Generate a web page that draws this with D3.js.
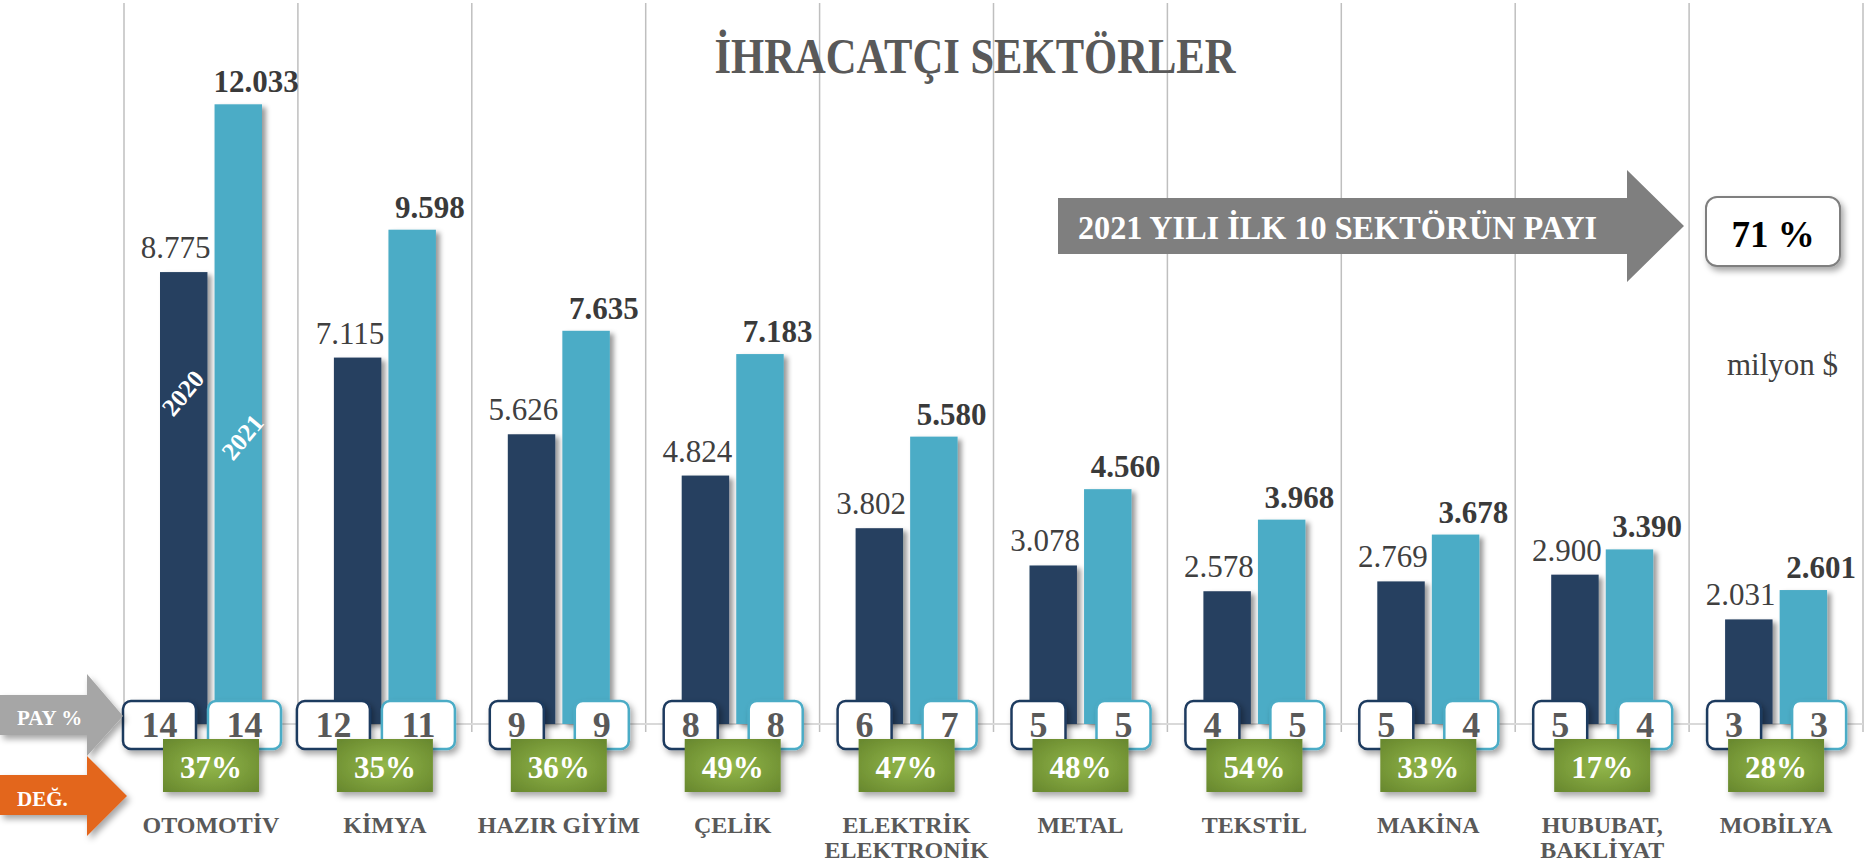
<!DOCTYPE html>
<html>
<head>
<meta charset="utf-8">
<script src="https://cdn.jsdelivr.net/npm/d3@7"></script>
<style>
html,body{margin:0;padding:0;background:#fff;}
svg{display:block;}
text{font-family:"Liberation Serif","Times New Roman",serif;}
</style>
</head>
<body>
<svg id="chart" width="1876" height="865"></svg>
<script>
// ---------- data ----------
const categories = ["OTOMOTİV","KİMYA","HAZIR GİYİM","ÇELİK","ELEKTRİK|ELEKTRONİK","METAL","TEKSTİL","MAKİNA","HUBUBAT,|BAKLİYAT","MOBİLYA"];
const years = ["2020","2021"];
const values2020 = [8775,7115,5626,4824,3802,3078,2578,2769,2900,2031];
const values2021 = [12033,9598,7635,7183,5580,4560,3968,3678,3390,2601];
const share2020 = [14,12,9,8,6,5,4,5,5,3];
const share2021 = [14,11,9,8,7,5,5,4,4,3];
const changePct = [37,35,36,49,47,48,54,33,17,28];
const titleText = "İHRACATÇI SEKTÖRLER";
const arrowText = "2021 YILI İLK 10 SEKTÖRÜN PAYI";
const top10Share = "71 %";
const unitText = "milyon $";
const payLabel = "PAY %";
const degLabel = "DEĞ.";

// ---------- setup ----------
const svg = d3.select("#chart");
const trLocale = d3.formatLocale({decimal:",", thousands:".", grouping:[3], currency:["","$"]});
const fmt = trLocale.format(",d");

const x = d3.scaleBand().domain(d3.range(categories.length)).range([124, 1863]).padding(0);
const sub = d3.scaleBand().domain(years).range([36, 138]).paddingInner(0.13);
const y = d3.scaleLinear().domain([0, 14000]).range([724, 3]);
const bw = sub.bandwidth();

const C = {dark:"#264061", light:"#4bacc6", grid:"#bfbfbf", axis:"#d9d9d9", text:"#595959", label:"#404040"};

const defs = svg.append("defs");
const sh = defs.append("filter").attr("id","shadow").attr("x","-30%").attr("y","-30%").attr("width","160%").attr("height","160%");
sh.append("feDropShadow").attr("dx",4).attr("dy",3).attr("stdDeviation",2.5).attr("flood-color","#000").attr("flood-opacity",0.4);
const sh2 = defs.append("filter").attr("id","shadow2").attr("x","-30%").attr("y","-30%").attr("width","160%").attr("height","160%");
sh2.append("feDropShadow").attr("dx",3).attr("dy",4).attr("stdDeviation",3).attr("flood-color","#000").attr("flood-opacity",0.35);
const rg = defs.append("radialGradient").attr("id","green").attr("cx","50%").attr("cy","50%").attr("r","65%");
rg.append("stop").attr("offset","0%").attr("stop-color","#92b74a");
rg.append("stop").attr("offset","100%").attr("stop-color","#6a8a2f");

// ---------- grid ----------
const gridX = x.domain().map(i => x(i)).concat([x.range()[1]]);
svg.append("g").selectAll("line").data(gridX).join("line")
  .attr("x1", d => d).attr("x2", d => d).attr("y1", 3).attr("y2", 732)
  .attr("stroke", C.grid).attr("stroke-width", 1.5);
svg.append("line").attr("x1", x.range()[0]).attr("x2", x.range()[1])
  .attr("y1", y(0)).attr("y2", y(0)).attr("stroke", C.axis).attr("stroke-width", 2);

// ---------- title ----------
svg.append("text").attr("x", 975).attr("y", 73).attr("text-anchor","middle")
  .attr("font-size", 50).attr("font-weight","bold").attr("fill", C.text)
  .attr("textLength", 521).attr("lengthAdjust","spacingAndGlyphs").text(titleText);

// ---------- bars ----------
const rows = categories.map((c, i) => ({i, c, v: [values2020[i], values2021[i]], s: [share2020[i], share2021[i]], chg: changePct[i]}));
const g = svg.append("g").selectAll("g").data(rows).join("g").attr("transform", d => `translate(${x(d.i)},0)`);

g.selectAll("rect.bar").data(d => years.map((yr, k) => ({yr, v: d.v[k]}))).join("rect")
  .attr("class","bar")
  .attr("x", d => sub(d.yr)).attr("width", bw)
  .attr("y", d => y(d.v)).attr("height", d => y(0) - y(d.v))
  .attr("fill", d => d.yr === "2020" ? C.dark : C.light)
  .attr("filter","url(#shadow)");

// value labels
g.append("text").attr("x", sub("2020") + bw + 3).attr("y", d => y(d.v[0]) - 14)
  .attr("text-anchor","end").attr("font-size", 31).attr("fill", C.label).text(d => fmt(d.v[0]));
g.append("text").attr("x", sub("2021") + bw - 6).attr("y", d => y(d.v[1]) - 12)
  .attr("text-anchor","middle").attr("font-size", 31).attr("font-weight","bold").attr("fill", "#3a3a3a").text(d => fmt(d.v[1]));

// series labels inside first group
const first = rows[0];
[["2020", -1], ["2021", 4]].forEach(([yr, dx], k) => {
  const cx = x(first.i) + sub(yr) + bw / 2 + dx;
  const cy = k === 0 ? 393 : 437;
  svg.append("text").attr("transform", `translate(${cx},${cy}) rotate(-50)`)
    .attr("text-anchor","middle").attr("dy","0.35em")
    .attr("font-size", 25).attr("font-weight","bold").attr("fill","#fff").text(yr);
});

// share boxes
const boxRight = {"2020": 72, "2021": 157};
g.each(function(d) {
  const gg = d3.select(this);
  years.forEach((yr, k) => {
    const val = d.s[k];
    const w = 35 + 19 * String(val).length;
    const x1 = boxRight[yr] - w;
    gg.append("rect").attr("x", x1).attr("y", 701).attr("width", w).attr("height", 48)
      .attr("rx", 8).attr("fill","#fff").attr("stroke", yr === "2020" ? "#1f3a5f" : C.light)
      .attr("stroke-width", 2.5).attr("filter","url(#shadow2)");
    gg.append("text").attr("x", x1 + w / 2).attr("y", 737).attr("text-anchor","middle")
      .attr("font-size", 36).attr("font-weight","bold").attr("fill", C.text).text(val);
  });
  gg.append("rect").attr("x", 39).attr("y", 739).attr("width", 96).attr("height", 53)
    .attr("fill","url(#green)").attr("filter","url(#shadow2)");
  gg.append("text").attr("x", 87).attr("y", 778).attr("text-anchor","middle")
    .attr("font-size", 31).attr("font-weight","bold").attr("fill","#fff").text(d.chg + "%");
  const lines = d.c.split("|");
  lines.forEach((ln, j) => {
    gg.append("text").attr("x", 87).attr("y", 833 + j * 25).attr("text-anchor","middle")
      .attr("font-size", 24).attr("font-weight","bold").attr("fill", C.text).text(ln);
  });
});

// ---------- left arrows ----------
function arrow(x0, bodyR, tipX, by0, by1, hy0, hy1, tipY) {
  return `M${x0},${by0} L${bodyR},${by0} L${bodyR},${hy0} L${tipX},${tipY} L${bodyR},${hy1} L${bodyR},${by1} L${x0},${by1} Z`;
}
svg.append("path").attr("d", arrow(0, 87, 123, 695, 735, 674, 756, 716))
  .attr("fill","#a6a6a6").attr("filter","url(#shadow2)");
svg.append("text").attr("x", 17).attr("y", 725).attr("font-size", 21).attr("font-weight","bold")
  .attr("fill","#fff").text(payLabel);
svg.append("path").attr("d", arrow(0, 87, 127, 775, 815, 756, 836, 796))
  .attr("fill","#e3661e").attr("filter","url(#shadow2)");
svg.append("text").attr("x", 17).attr("y", 806).attr("font-size", 21).attr("font-weight","bold")
  .attr("fill","#fff").text(degLabel);

// ---------- big arrow ----------
svg.append("path").attr("d", arrow(1058, 1627, 1684, 198, 254, 170, 282, 226)).attr("fill","#7f7f7f");
svg.append("text").attr("x", 1078).attr("y", 239).attr("font-size", 33).attr("font-weight","bold")
  .attr("fill","#fff").attr("textLength", 519).attr("lengthAdjust","spacingAndGlyphs").text(arrowText);

svg.append("rect").attr("x", 1706).attr("y", 197).attr("width", 134).attr("height", 69).attr("rx", 11)
  .attr("fill","#fff").attr("stroke","#7f7f7f").attr("stroke-width", 2).attr("filter","url(#shadow2)");
svg.append("text").attr("x", 1773).attr("y", 247).attr("text-anchor","middle").attr("font-size", 37)
  .attr("font-weight","bold").attr("fill","#000").text(top10Share);

svg.append("text").attr("x", 1838).attr("y", 375).attr("text-anchor","end").attr("font-size", 31)
  .attr("fill", C.label).text(unitText);
</script>
</body>
</html>
